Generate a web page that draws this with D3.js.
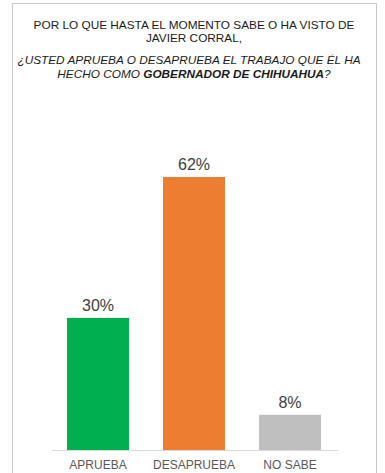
<!DOCTYPE html>
<html><head><meta charset="utf-8">
<script src="https://cdn.jsdelivr.net/npm/d3@7"></script>
<style>body{margin:0;background:#fff;}svg{display:block;font-family:"Liberation Sans",Arial,sans-serif;}</style>
</head><body>
<script>
const categories = ["APRUEBA", "DESAPRUEBA", "NO SABE"];
const values = [30, 62, 8];
const colors = ["#00B050", "#ED7D31", "#BFBFBF"];
const valueLabels = ["30%", "62%", "8%"];

const W = 385, H = 473;
const svg = d3.select("body").append("svg").attr("width", W).attr("height", H);

svg.append("rect").attr("x", 12.5).attr("y", 3.5).attr("width", 364).attr("height", H + 10)
  .attr("fill", "#fff").attr("stroke", "#c8c8c8").attr("stroke-width", 1);

const title = svg.append("g").attr("text-anchor", "middle").attr("fill", "#1a1a1a").attr("font-size", 11.8);
title.append("text").attr("x", 194).attr("y", 28.5).text("POR LO QUE HASTA EL MOMENTO SABE O HA VISTO DE");
title.append("text").attr("x", 194).attr("y", 42).text("JAVIER CORRAL,");
const t3 = title.append("text").attr("x", 189).attr("y", 64).attr("font-style", "italic");
t3.text("¿USTED APRUEBA O DESAPRUEBA EL TRABAJO QUE ÉL HA");
const t4 = title.append("text").attr("x", 194).attr("y", 78).attr("font-style", "italic");
t4.append("tspan").text("HECHO COMO ");
t4.append("tspan").attr("font-weight", "bold").text("GOBERNADOR DE CHIHUAHUA");
t4.append("tspan").text("?");

const x = d3.scaleBand().domain(categories).range([50, 338]).paddingInner(0.354).paddingOuter(0.177);
const y = d3.scaleLinear().domain([0, 62]).range([450, 177]);

svg.append("g").selectAll("rect").data(categories).join("rect")
  .attr("x", d => x(d)).attr("width", x.bandwidth())
  .attr("y", (d, i) => y(values[i])).attr("height", (d, i) => y(0) - y(values[i]))
  .attr("fill", (d, i) => colors[i]);

svg.append("line").attr("x1", 52).attr("x2", 338).attr("y1", 450.5).attr("y2", 450.5)
  .attr("stroke", "#d9d9d9").attr("stroke-width", 1);

svg.append("g").selectAll("text").data(categories).join("text")
  .attr("x", d => x(d) + x.bandwidth() / 2).attr("y", (d, i) => y(values[i]) - 7)
  .attr("text-anchor", "middle").attr("font-size", 16).attr("fill", "#404040")
  .text((d, i) => valueLabels[i]);

const xAxis = svg.append("g").attr("transform", "translate(0,450)")
  .call(d3.axisBottom(x).tickSize(0).tickPadding(10.5));
xAxis.select(".domain").remove();
xAxis.selectAll("text").attr("font-size", 12).attr("fill", "#595959")
  .attr("font-family", "Liberation Sans, Arial, sans-serif");
</script>
</body></html>
